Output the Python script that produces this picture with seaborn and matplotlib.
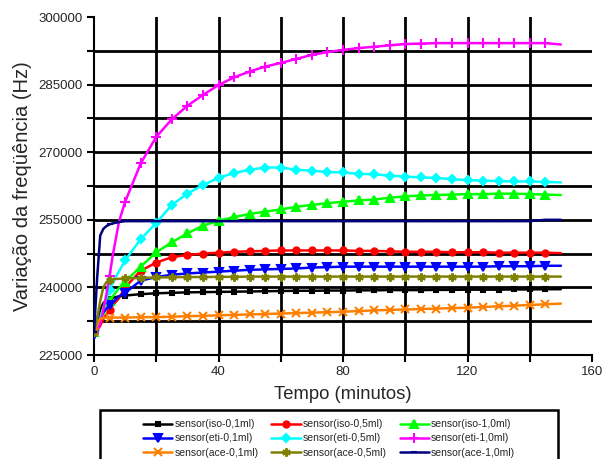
import numpy as np
import pandas as pd
import matplotlib
matplotlib.use("Agg")
import matplotlib.pyplot as plt
import seaborn as sns
from matplotlib.patches import Rectangle

# ---- data ----
tempo = [0, 1, 2, 3, 4, 5, 6, 8, 10, 15, 20, 25, 30, 35, 40, 45, 50, 55, 60, 65,
         70, 75, 80, 85, 90, 95, 100, 105, 110, 115, 120, 125, 130, 135, 140, 145, 150]

iso_01 = [230000, 233000, 235000, 236500, 237200, 237500, 237700, 238000, 238200, 238500,
          238700, 238800, 238900, 238950, 239000, 239050, 239100, 239150, 239200, 239250,
          239250, 239300, 239300, 239350, 239350, 239400, 239400, 239400, 239450, 239450,
          239500, 239500, 239500, 239550, 239550, 239600, 239600]
iso_05 = [230000, 230500, 231500, 233000, 234000, 235000, 236000, 237600, 240000, 243700,
          245500, 246700, 247200, 247500, 247700, 247900, 248000, 248100, 248200, 248200,
          248200, 248200, 248200, 248100, 248100, 248000, 247900, 247900, 247900, 247800,
          247800, 247800, 247700, 247700, 247700, 247700, 247600]
iso_10 = [230000, 231000, 232500, 234000, 235500, 237000, 238000, 239800, 241300, 244600,
          247800, 250000, 252000, 253700, 254800, 255600, 256300, 256800, 257300, 257900,
          258300, 258700, 259000, 259300, 259500, 259900, 260200, 260400, 260500, 260600,
          260700, 260700, 260800, 260800, 260700, 260600, 260500]
eti_01 = [229500, 232000, 233500, 234500, 235300, 236000, 236700, 238000, 238800, 241500,
          242300, 242800, 243100, 243300, 243500, 243700, 243900, 244000, 244100, 244200,
          244400, 244500, 244600, 244600, 244600, 244600, 244600, 244600, 244600, 244600,
          244600, 244600, 244700, 244700, 244700, 244800, 244800]
eti_05 = [230000, 231000, 233000, 235500, 237500, 239500, 241000, 243500, 246000, 250700,
          254300, 258300, 260800, 262700, 264300, 265400, 266100, 266600, 266600, 266100,
          265900, 265600, 265500, 265200, 265100, 264800, 264600, 264400, 264300, 264000,
          263800, 263700, 263600, 263500, 263500, 263400, 263300]
eti_10 = [230000, 230500, 232000, 235000, 238500, 242500, 247000, 254500, 259000, 267500,
          273400, 277300, 280300, 282700, 284900, 286600, 287900, 289000, 289800, 290700,
          291600, 292200, 292700, 293100, 293400, 293700, 294000, 294100, 294200, 294200,
          294200, 294200, 294200, 294200, 294200, 294200, 293900]
ace_01 = [230000, 232000, 233000, 233200, 233300, 233300, 233300, 233300, 233300, 233400,
          233400, 233500, 233600, 233700, 233800, 233900, 234000, 234100, 234200, 234300,
          234400, 234500, 234600, 234750, 234900, 235000, 235100, 235200, 235300, 235400,
          235500, 235650, 235800, 235950, 236100, 236250, 236400]
ace_05 = [230000, 233000, 237000, 240000, 241200, 241600, 241800, 241900, 242000, 242100,
          242200, 242250, 242300, 242300, 242350, 242350, 242400, 242400, 242400, 242400,
          242400, 242400, 242400, 242400, 242400, 242400, 242400, 242400, 242400, 242400,
          242400, 242400, 242400, 242400, 242400, 242400, 242400]
ace_10 = [230000, 242000, 251500, 253000, 253600, 254000, 254200, 254500, 254700, 254700,
          254700, 254700, 254700, 254700, 254700, 254700, 254700, 254700, 254700, 254700,
          254700, 254700, 254700, 254700, 254700, 254700, 254700, 254700, 254700, 254700,
          254700, 254700, 254700, 254700, 254700, 255000, 255000]

labels = ["sensor(iso-0,1ml)", "sensor(iso-0,5ml)", "sensor(iso-1,0ml)",
          "sensor(eti-0,1ml)", "sensor(eti-0,5ml)", "sensor(eti-1,0ml)",
          "sensor(ace-0,1ml)", "sensor(ace-0,5ml)", "sensor(ace-1,0ml)"]
series = [iso_01, iso_05, iso_10, eti_01, eti_05, eti_10, ace_01, ace_05, ace_10]

x_ticks = [0, 40, 80, 120, 160]
y_ticks = [225000, 240000, 255000, 270000, 285000, 300000]
x_grid = [20, 40, 60, 80, 100, 120, 140]
y_grid = [232500, 240000, 247500, 255000, 262500, 270000, 277500, 285000, 292500]

# ---- styles ----
colors = ["#000000", "#ff0000", "#00ff00", "#0000ff", "#00ffff", "#ff00ff",
          "#ff8000", "#808000", "#000080"]
markers = ["s", "o", "^", "v", "D", "+", "x", (6, 2, 0), "_"]
msizes = [3.5, 4.5, 5.5, 5.5, 4.5, 6.5, 5.5, 6, 4]

sns.set_style("ticks")
plt.rcParams["font.family"] = ["Liberation Sans", "DejaVu Sans"]

fig = plt.figure(figsize=(6.04, 4.59), dpi=100)
ax = fig.add_axes([94 / 604, 1 - 355 / 459, (592 - 94) / 604, (355 - 17) / 459])

for xv in x_grid:
    ax.axvline(xv, color="black", lw=2.0, zorder=1)
for yv in y_grid:
    ax.axhline(yv, color="black", lw=2.0, zorder=1)

mark_idx = [i for i, t in enumerate(tempo) if t % 5 == 0 and t < 150]

handles = []
for lab, vals, c, m, ms in zip(labels, series, colors, markers, msizes):
    df = pd.DataFrame({"t": tempo, "v": vals})
    sns.lineplot(data=df, x="t", y="v", ax=ax, color=c, lw=1.8, marker=m,
                 markersize=ms, markevery=mark_idx, markeredgewidth=1.5,
                 markeredgecolor=c, label=lab, zorder=3, legend=False)
    handles.append(ax.lines[-1])

ax.set_xlim(0, 160)
ax.set_ylim(225000, 300000)
ax.set_xticks(x_ticks)
ax.set_yticks(y_ticks)
ax.set_xticks(x_grid, minor=True)
ax.set_yticks(y_grid, minor=True)
ax.set_xticklabels([str(v) for v in x_ticks], fontsize=9.5)
ax.set_yticklabels([str(v) for v in y_ticks], fontsize=9.5)
ax.tick_params(which="major", length=5, width=1.5, pad=3, color="black")
ax.tick_params(which="minor", length=5, width=1.5, color="black")
for s in ["top", "right"]:
    ax.spines[s].set_visible(False)
for s in ["left", "bottom"]:
    ax.spines[s].set_linewidth(1.5)
    ax.spines[s].set_color("black")

ax.set_xlabel("Tempo (minutos)", fontsize=13.3, labelpad=6)
ax.set_ylabel("Variação da freqüência (Hz)", fontsize=14.5, labelpad=5)

# legend: column-major order for 3 columns
order = [0, 3, 6, 1, 4, 7, 2, 5, 8]
fig.legend([handles[i] for i in order], [labels[i] for i in order],
           loc="upper center", bbox_to_anchor=(329 / 604, 1 - 414 / 459),
           ncol=3, frameon=False, fontsize=7.5, handlelength=2.8,
           handletextpad=0.2, columnspacing=1.25, labelspacing=0.4,
           borderpad=0.0)
fig.patches.append(Rectangle((100 / 604, -0.05), (558 - 100) / 604,
                             0.05 + 1 - 410 / 459, transform=fig.transFigure,
                             fill=False, edgecolor="black", lw=1.8))

fig.savefig("out.png", dpi=100)
